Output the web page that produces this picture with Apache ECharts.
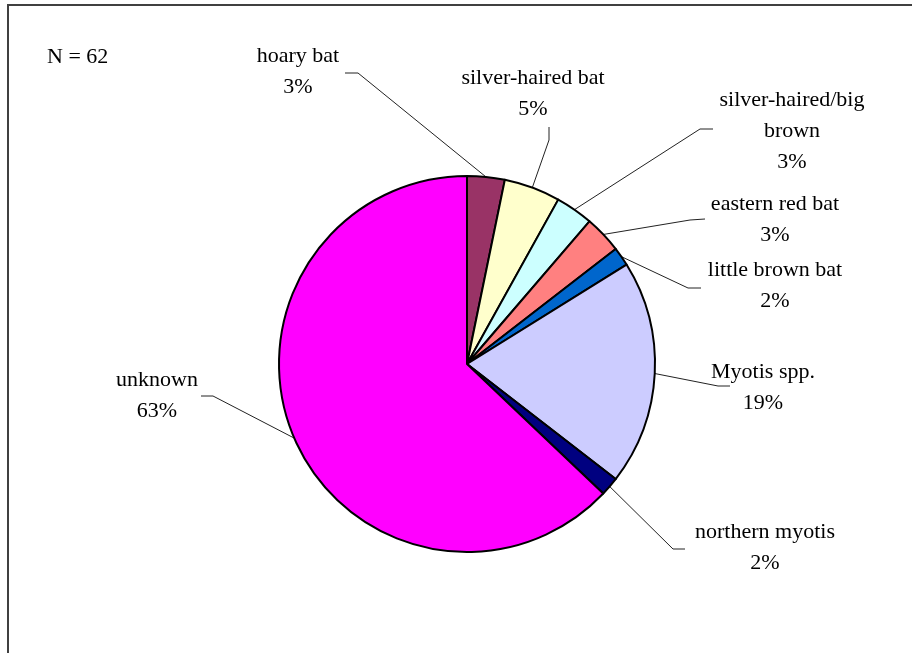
<!DOCTYPE html>
<html>
<head>
<meta charset="utf-8">
<script src="https://cdn.jsdelivr.net/npm/echarts@6/dist/echarts.min.js"></script>
<style>
  html, body { margin: 0; padding: 0; background: #fff; }
  #main { width: 912px; height: 653px; }
</style>
</head>
<body>
<div id="main"></div>
<script>
var species = ['hoary bat', 'silver-haired bat', 'silver-haired/big brown', 'eastern red bat',
    'little brown bat', 'Myotis spp.', 'northern myotis', 'unknown'];
var counts = [2, 3, 2, 2, 1, 12, 1, 39];
var colors = ['#993366', '#FFFFCC', '#CCFFFF', '#FF8080', '#0066CC', '#CCCCFF', '#000080', '#FF00FF'];

// label block centres and leader line bends
var labelPos = [[298, 72], [533, 94], [792, 131], [775, 220], [775, 286], [763, 388], [765, 548], [157, 396]];
var lineBends = [
    [[358, 73], [345, 73]],
    [[549, 140], [549, 127]],
    [[700, 129], [713, 129]],
    [[690, 220], [705, 219]],
    [[688, 288], [701, 288]],
    [[718, 386], [730, 386]],
    [[673, 549], [685, 549]],
    [[213, 396], [201, 396]]
];

var myChart = echarts.init(document.getElementById('main'));

var pieData = species.map(function (name, i) {
    return { name: name, value: counts[i], itemStyle: { color: colors[i] } };
});

var option = {
    animation: false,
    backgroundColor: '#fff',
    textStyle: { fontFamily: 'Liberation Serif' },
    graphic: [{
        type: 'rect',
        shape: { x: 8, y: 5, width: 920, height: 680 },
        style: { fill: 'none', stroke: '#404040', lineWidth: 2 }
    }, {
        type: 'text',
        left: 47, top: 46,
        style: { text: 'N = 62', font: '22px "Liberation Serif"', fill: '#000' }
    }],
    series: [{
        type: 'pie',
        center: [467, 364],
        radius: 188,
        startAngle: 90,
        clockwise: true,
        percentPrecision: 0,
        data: pieData,
        itemStyle: { borderColor: '#000', borderWidth: 2 },
        label: {
            show: true,
            position: 'outside',
            color: '#000',
            fontFamily: 'Liberation Serif',
            fontSize: 22,
            lineHeight: 31,
            align: 'center',
            formatter: function (p) {
                return p.name.replace('/big ', '/big\n') + '\n' + p.percent + '%';
            }
        },
        labelLine: {
            show: true,
            length: 20,
            length2: 10,
            lineStyle: { color: '#222', width: 1 }
        },
        labelLayout: function (params) {
            var i = params.dataIndex;
            var start = params.labelLinePoints ? params.labelLinePoints[0] : lineBends[i][0];
            return {
                x: labelPos[i][0],
                y: labelPos[i][1],
                align: 'center',
                verticalAlign: 'middle',
                labelLinePoints: [start, lineBends[i][0], lineBends[i][1]]
            };
        },
        emphasis: { disabled: true }
    }]
};
myChart.setOption(option);
</script>
</body>
</html>
